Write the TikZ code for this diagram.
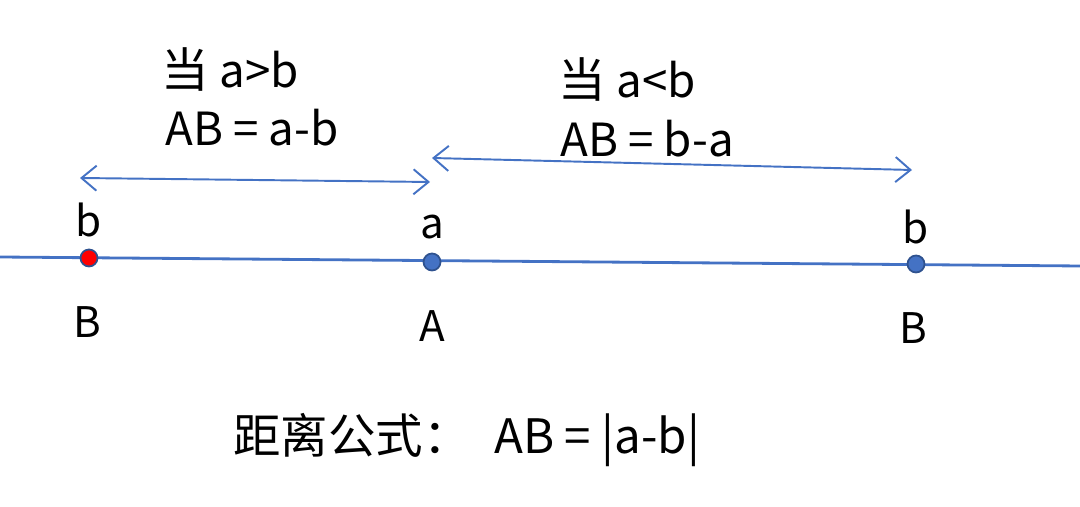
\documentclass[tikz,border=0pt]{standalone}
\usepackage{fontspec}
\setmainfont{Noto Sans CJK SC}
\usetikzlibrary{arrows.meta}
\definecolor{lineblue}{HTML}{4472C4}
\definecolor{dotedge}{HTML}{2F528F}
\tikzset{
    axis/.style={lineblue, line width=1.6pt},
    span/.style={lineblue, line width=1.1pt, {Straight Barb[length=3mm,width=5mm]}-{Straight Barb[length=3mm,width=5mm]}},
    pt/.style={circle, draw=dotedge, line width=1pt, fill=lineblue, inner sep=0pt, minimum size=0.34cm},
    lbl/.style={font=\fontsize{24}{28}\selectfont, inner sep=0pt},
    txt/.style={font=\fontsize{26}{30}\selectfont, inner sep=0pt, anchor=west},
    big/.style={font=\fontsize{27}{30}\selectfont, inner sep=0pt, anchor=west}
}
\begin{document}
\begin{tikzpicture}
    \useasboundingbox (0,0) rectangle (21.6,10.14);
    % number line
    \coordinate (LineStart) at (0,5.0);
    \coordinate (LineEnd) at (21.6,4.82);
    \draw[axis] (LineStart) -- (LineEnd);
    \node[pt, fill=red] (Bl) at (1.78,4.98) {};
    \node[pt] (A) at (8.64,4.90) {};
    \node[pt] (Br) at (18.32,4.86) {};
    % point labels
    \node[lbl] (bl) at (1.78,5.74) {b};
    \node[lbl] (a) at (8.64,5.60) {a};
    \node[lbl] (br) at (18.32,5.60) {b};
    \node[lbl] (BlName) at (1.74,3.70) {B};
    \node[lbl] (AName) at (8.64,3.62) {A};
    \node[lbl] (BrName) at (18.26,3.58) {B};
    % distance arrows
    \coordinate (L1) at (1.60,6.58);
    \coordinate (L2) at (8.60,6.50);
    \coordinate (R1) at (8.64,6.98);
    \coordinate (R2) at (18.24,6.74);
    \draw[span] (L1) -- (L2);
    \draw[span] (R1) -- (R2);
    % cases
    \node[big] (caseL) at (3.22,8.74) {当 {\fontsize{26}{30}\selectfont a>b}};
    \node[txt] (distL) at (3.30,7.58) {AB = a-b};
    \node[big] (caseR) at (11.16,8.54) {当 {\fontsize{26}{30}\selectfont a<b}};
    \node[txt] (distR) at (11.20,7.36) {AB = b-a};
    % formula
    \node[big] (formula) at (4.66,1.34) {距离公式：\hspace{0.5em}{\fontsize{27}{30}\selectfont AB = |a-b|}};
\end{tikzpicture}
\end{document}
